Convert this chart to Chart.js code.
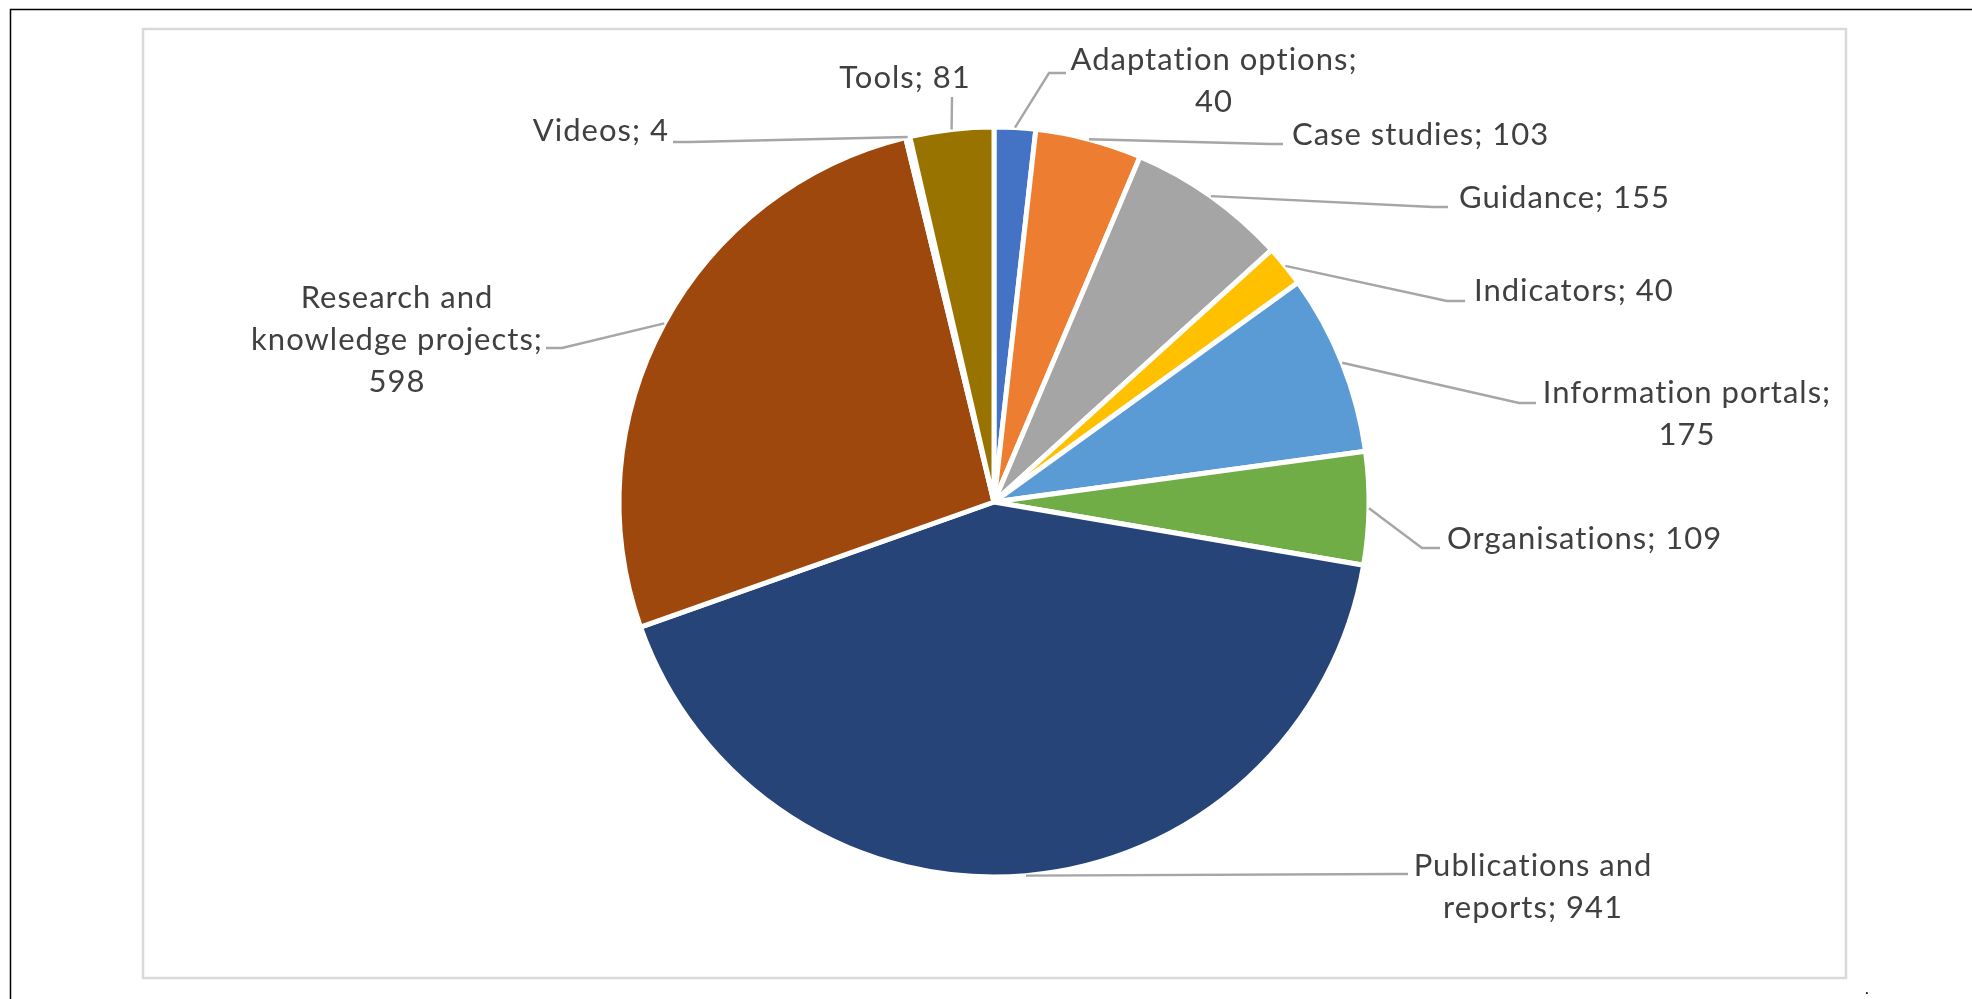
<!DOCTYPE html>
<html>
<head>
<meta charset="utf-8">
<script src="https://cdn.jsdelivr.net/npm/chart.js@4.4.1/dist/chart.umd.min.js"></script>
<style>
  html, body { margin: 0; padding: 0; background: #ffffff; }
  #wrap { width: 1972px; height: 999px; position: relative; }
  canvas { display: block; }
</style>
</head>
<body>
<div id="wrap"><canvas id="c" width="1972" height="999"></canvas></div>
<script>
// ---- data ----
const categories = [
  'Adaptation options', 'Case studies', 'Guidance', 'Indicators',
  'Information portals', 'Organisations', 'Publications and reports',
  'Research and knowledge projects', 'Videos', 'Tools'
];
const values = [40, 103, 155, 40, 175, 109, 941, 598, 4, 81];
const sliceColors = [
  '#4472C4', '#ED7D31', '#A5A5A5', '#FFC000', '#5B9BD5',
  '#70AD47', '#264478', '#9E480E', '#636363', '#997300'
];

// ---- label layout (relative to pie centre, pixels) ----
const labelLayout = [
  { align: 'center', x: 220,  y: -442, elbow: [55, -429],   end: [72, -429] },
  { align: 'left',   x: 298,  y: -367, elbow: [276, -358],  end: [289, -358] },
  { align: 'left',   x: 465,  y: -304, elbow: [439, -295],  end: [454, -295] },
  { align: 'left',   x: 480,  y: -211, elbow: [453, -201],  end: [471, -201] },
  { align: 'center', x: 693,  y: -109, elbow: [525, -99],   end: [542, -99] },
  { align: 'left',   x: 453,  y: 37,   elbow: [428, 46],    end: [446, 46] },
  { align: 'center', x: 539,  y: 364,  elbow: [401, 372],   end: [414, 372] },
  { align: 'center', x: -597, y: -204, elbow: [-432, -154], end: [-448, -154] },
  { align: 'right',  x: -325, y: -371, elbow: [-304, -360], end: [-321, -360] },
  { align: 'center', x: -89,  y: -424, elbow: [-42, -405],  end: [-42, -405] }
];
const LABEL_FONT = '31px Lato';
const LINE_H = 42;
const WRAP_W = 310;

function wrapText(ctx, text, maxW) {
  const words = text.split(' ');
  const lines = [];
  let cur = '';
  for (const w of words) {
    const t = cur ? cur + ' ' + w : w;
    if (cur && ctx.measureText(t).width > maxW) { lines.push(cur); cur = w; }
    else cur = t;
  }
  if (cur) lines.push(cur);
  return lines;
}

const framePlugin = {
  id: 'frame',
  beforeDraw(chart) {
    const ctx = chart.ctx;
    ctx.save();
    ctx.fillStyle = '#ffffff';
    ctx.fillRect(0, 0, chart.width, chart.height);
    // outer black frame (top + left)
    ctx.strokeStyle = '#000000';
    ctx.lineWidth = 1.5;
    ctx.beginPath();
    ctx.moveTo(10.5, chart.height);
    ctx.lineTo(10.5, 9.5);
    ctx.lineTo(chart.width, 9.5);
    ctx.stroke();
    // chart area border
    ctx.strokeStyle = '#D9D9D9';
    ctx.lineWidth = 2.5;
    ctx.strokeRect(143, 29, 1703, 949);
    // stray dot
    ctx.fillStyle = '#000000';
    ctx.font = '16px Lato';
    ctx.textAlign = 'center';
    ctx.textBaseline = 'alphabetic';
    ctx.fillText('.', 1867, 994);
    ctx.restore();
  }
};

const labelPlugin = {
  id: 'pieLabels',
  afterDatasetsDraw(chart) {
    const ctx = chart.ctx;
    const meta = chart.getDatasetMeta(0);
    ctx.save();
    ctx.font = LABEL_FONT;
    if ('letterSpacing' in ctx) ctx.letterSpacing = '1px';
    meta.data.forEach((arc, i) => {
      const L = labelLayout[i];
      const cx = arc.x, cy = arc.y;
      const mid = (arc.startAngle + arc.endAngle) / 2;
      const r = arc.outerRadius;
      const sx = cx + Math.cos(mid) * r;
      const sy = cy + Math.sin(mid) * r;
      // leader line
      ctx.strokeStyle = '#A6A6A6';
      ctx.lineWidth = 2.4;
      ctx.lineJoin = 'miter';
      ctx.beginPath();
      ctx.moveTo(sx, sy);
      ctx.lineTo(cx + L.elbow[0], cy + L.elbow[1]);
      ctx.lineTo(cx + L.end[0], cy + L.end[1]);
      ctx.stroke();
      // text
      const text = categories[i] + '; ' + values[i];
      const lines = wrapText(ctx, text, WRAP_W);
      ctx.fillStyle = '#404040';
      ctx.textAlign = L.align;
      ctx.textBaseline = 'middle';
      lines.forEach((ln, k) => {
        ctx.fillText(ln, cx + L.x, cy + L.y + k * LINE_H);
      });
    });
    ctx.restore();
  }
};

new Chart(document.getElementById('c'), {
  type: 'pie',
  data: {
    labels: categories,
    datasets: [{
      data: values,
      backgroundColor: sliceColors,
      borderColor: '#ffffff',
      borderWidth: 5,
      hoverOffset: 0,
      offset: 0
    }]
  },
  options: {
    responsive: false,
    devicePixelRatio: 1,
    animation: false,
    radius: 375,
    layout: { padding: { left: 16, top: 5, right: 0, bottom: 0 } },
    plugins: {
      legend: { display: false },
      tooltip: { enabled: false },
      title: { display: false }
    },
    events: []
  },
  plugins: [framePlugin, labelPlugin]
});
</script>
</body>
</html>
